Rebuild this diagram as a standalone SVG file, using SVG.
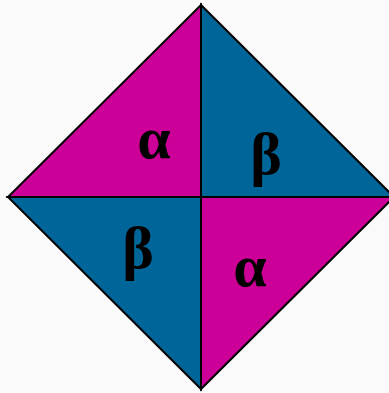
<svg xmlns="http://www.w3.org/2000/svg" width="389" height="393" viewBox="0 0 389 393">
<style>
.m{fill:#CC0099;stroke:#000;stroke-width:2;stroke-linejoin:miter}
.t{fill:#006699;stroke:#000;stroke-width:2;stroke-linejoin:miter}
.l{font-family:"Liberation Serif","Times New Roman",serif;font-weight:bold;font-size:60px;fill:#000;text-anchor:middle}
</style>
<rect width="389" height="393" fill="#FAFAFA"/>
<g id="tl"><polygon class="m" points="201,5 8,197 201,197"/><text class="l" x="154" y="158">α</text></g>
<g id="tr"><polygon class="t" points="201,5 394,197 201,197"/><text class="l" x="266" y="174">β</text></g>
<g id="bl"><polygon class="t" points="8,197 201,197 201,389"/><text class="l" x="138" y="268">β</text></g>
<g id="br"><polygon class="m" points="201,197 394,197 201,389"/><text class="l" x="250" y="286">α</text></g>
<g id="connectors"></g>
</svg>
